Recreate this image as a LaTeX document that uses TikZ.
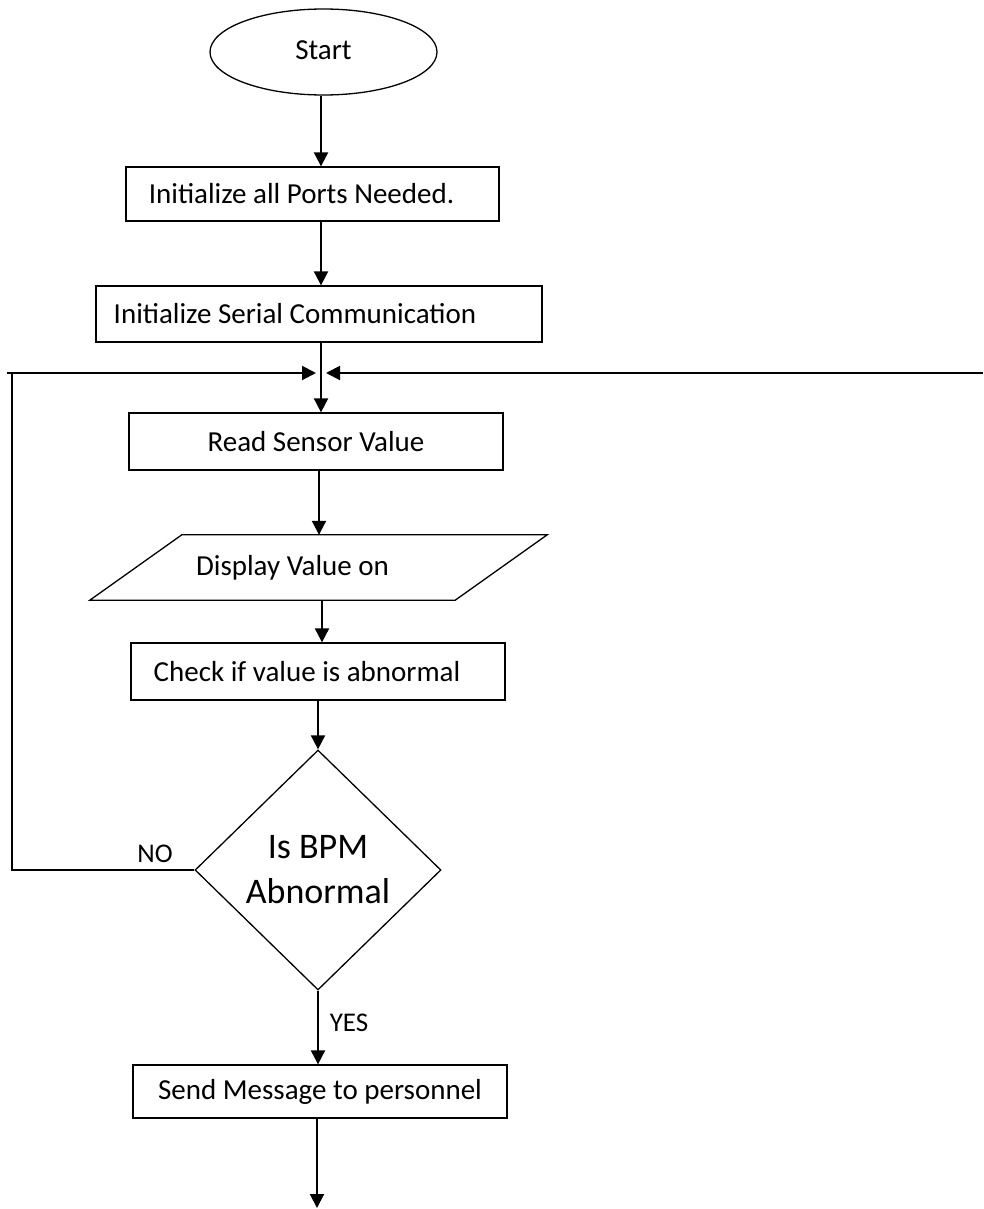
\documentclass[tikz,border=0pt]{standalone}
\usepackage{fontspec}
\setmainfont{Carlito}
\usetikzlibrary{shapes.geometric,arrows.meta,calc}
\begin{document}
\begin{tikzpicture}[x=1pt,y=-1pt,
  every node/.style={font=\fontsize{29}{35}\selectfont, inner sep=0pt},
  box/.style={draw, line width=1.3pt, rectangle},
  arr/.style={line width=2pt, -{Triangle[length=14pt,width=14pt]}},
  lbl/.style={font=\fontsize{27}{32}\selectfont}]
\useasboundingbox (0,0) rectangle (983,1209);

\node[draw, line width=1.3pt, ellipse, minimum width=227pt, minimum height=86pt] (s) at (323.5,52) {\raisebox{4pt}{Start}};
\node[box, minimum width=373pt, minimum height=54pt] (b1) at (312.5,194) {Initialize all Ports Needed.\hspace*{22pt}};
\node[box, minimum width=446pt, minimum height=56pt] (b2) at (319,314) {Initialize Serial Communication\hspace*{48pt}};
\coordinate (j) at (321,373);
\node[box, minimum width=374pt, minimum height=57pt] (r) at (316,441.5) {Read Sensor Value};
\node[minimum width=457pt, minimum height=65pt] (p) at (318.5,567.5) {Display Value on\hspace*{52pt}};
\draw[line width=1.3pt] ($(p.north west)+(92,0)$) -- (p.north east) -- ($(p.south east)+(-92,0)$) -- (p.south west) -- cycle;
\node[box, minimum width=374pt, minimum height=57pt] (c) at (318,671.5) {Check if value is abnormal\hspace*{22pt}};
\node[draw, line width=1.3pt, diamond, minimum width=246pt, minimum height=240pt, align=center, font=\fontsize{36}{45}\selectfont] (d) at (318,870) {Is BPM\\Abnormal};
\node[box, minimum width=374pt, minimum height=53pt] (m) at (320,1091.5) {Send Message to personnel};
\coordinate (e) at (317,1208);
\coordinate (re) at (983,373);
\node[lbl] (no) at (155,854) {NO};
\node[lbl] (yes) at (349,1023) {YES};

\draw[arr] (s.south -| j) -- (b1.north -| j);
\draw[arr] (b1.south -| j) -- (b2.north -| j);
\draw[line width=2pt] (b2.south -| j) -- (j);
\draw[arr] (j) -- (r.north -| j);
\draw[arr] (319,470) coordinate (r1) -- (r1 |- p.north);
\draw[arr] (322,600) coordinate (p1) -- (p1 |- c.north);
\draw[arr] (c.south -| d.north) -- (d.north);
\draw[arr] (d.south) -- (d.south |- m.north);
\draw[arr] (m.south -| e) -- (e);
\draw[line width=1.3pt] (d.west) -- (12,870) -- (12,373);
\draw[arr] (7,373) -- ($(j)+(-5,0)$);
\draw[arr] (re) -- ($(j)+(5,0)$);
\end{tikzpicture}
\end{document}
